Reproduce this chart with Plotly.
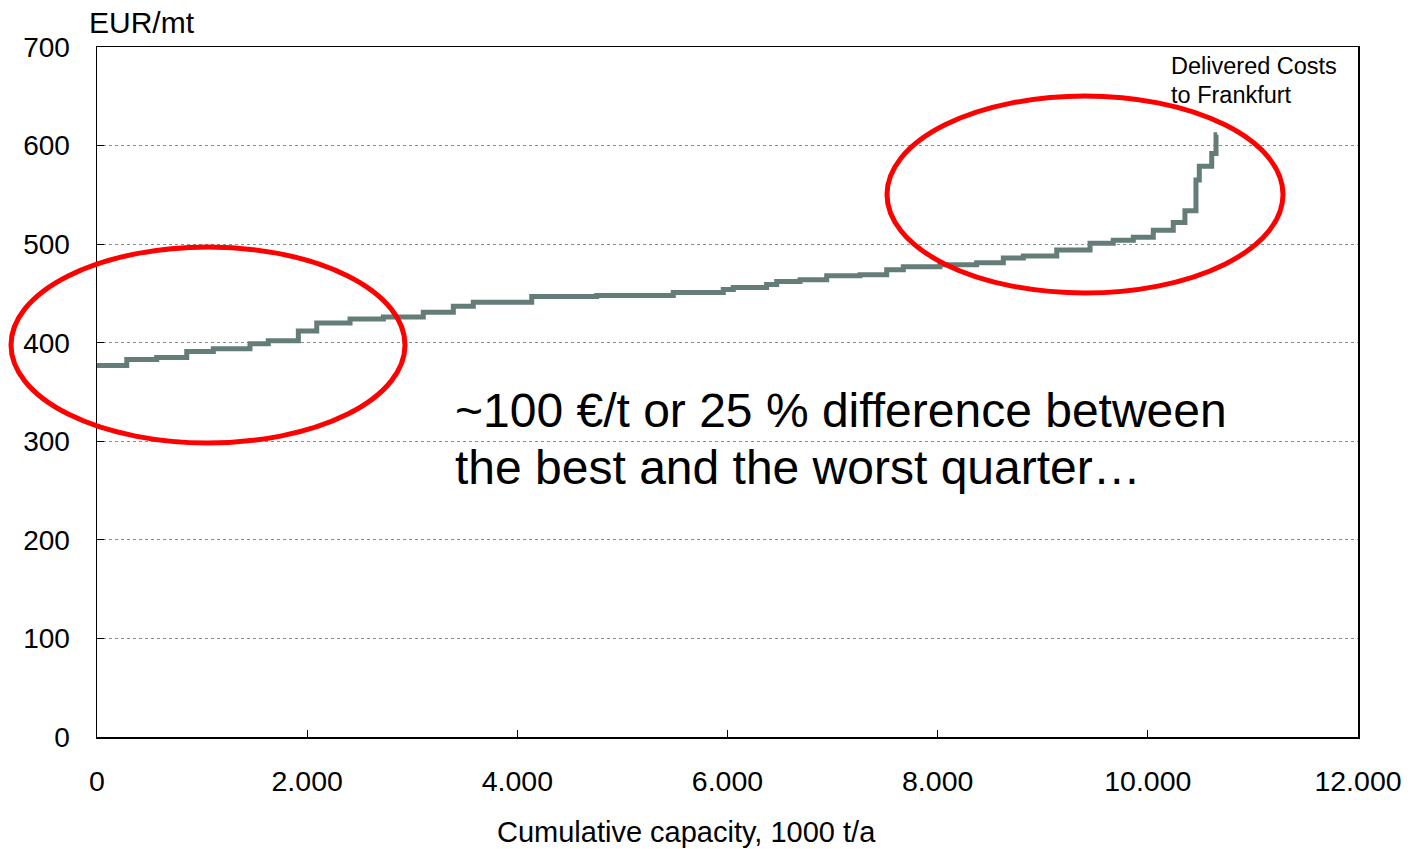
import plotly.graph_objects as go

# Cumulative capacity at end of each producer block (1000 t/a) and delivered cost (EUR/mt)
capacity_end = [283, 568, 854, 1107, 1456, 1630, 1916, 2091, 2408, 2725, 3105, 3391,
                3581, 4137, 4755, 5484, 5960, 6055, 6372, 6468, 6690, 6944, 7261, 7515,
                7673, 8022, 8371, 8625, 8815, 9133, 9450, 9671, 9862, 10052, 10242,
                10353, 10458, 10490, 10608, 10649, 10660]
cost = [377, 383, 385, 391, 394, 399, 402, 412, 420, 424, 426, 431,
        437, 441, 447, 448, 451, 454, 456, 459, 462, 464, 468, 469,
        474, 477, 479, 481, 486, 488, 494, 501, 504, 507, 514,
        522, 534, 565, 579, 592, 611]

x_ticks = [0, 2000, 4000, 6000, 8000, 10000, 12000]
y_ticks = [0, 100, 200, 300, 400, 500, 600, 700]

xs = [0] + capacity_end
ys = cost + [cost[-1]]

FONT = "Liberation Sans, Arial, sans-serif"

fig = go.Figure()
fig.add_trace(go.Scatter(
    x=xs, y=ys, mode="lines", line=dict(shape="hv", color="#647D78", width=5),
    hoverinfo="skip", showlegend=False,
))

L, R, T, B = 97, 54, 47, 112
W, H = 1412, 849
pw, ph = W - L - R, H - T - B

def px(xp):
    return (xp - L) / pw

def py(yp):
    return (H - B - yp) / ph

fig.update_layout(
    width=W, height=H,
    margin=dict(l=L, r=R, t=T, b=B, autoexpand=False),
    paper_bgcolor="white", plot_bgcolor="white",
    separators=",.",
    font=dict(family=FONT, color="black"),
    xaxis=dict(
        range=[0, 12000], tickvals=x_ticks, tickformat=",d",
        showgrid=False, zeroline=False, automargin=False,
        showline=True, linecolor="black", linewidth=1.5, mirror=True,
        ticks="inside", ticklen=7, tickcolor="black",
        tickfont=dict(size=28.5, family=FONT, color="black"),
        ticklabelstandoff=18,
    ),
    yaxis=dict(
        range=[0, 700], tickvals=y_ticks, automargin=False,
        showgrid=True, gridcolor="#8a8a8a", griddash="dot", gridwidth=1,
        zeroline=False,
        showline=True, linecolor="black", linewidth=1.5, mirror=True,
        ticks="inside", ticklen=7, tickcolor="black",
        tickfont=dict(size=28, family=FONT, color="black"),
        ticklabelstandoff=20,
    ),
    shapes=[
        dict(type="circle", xref="paper", yref="paper",
             x0=px(11), x1=px(405), y0=py(443), y1=py(247),
             line=dict(color="#FF0000", width=5), layer="above"),
        dict(type="circle", xref="paper", yref="paper",
             x0=px(887), x1=px(1283), y0=py(293), y1=py(96),
             line=dict(color="#FF0000", width=5), layer="above"),
    ],
    annotations=[
        dict(text="EUR/mt", xref="paper", yref="paper", x=px(87), y=py(22),
             xanchor="left", yanchor="middle", showarrow=False,
             font=dict(size=30, family=FONT, color="black")),
        dict(text="Cumulative capacity, 1000 t/a", xref="paper", yref="paper",
             x=px(686), y=py(832), xanchor="center", yanchor="middle", showarrow=False,
             font=dict(size=29, family=FONT, color="black")),
        dict(text="Delivered Costs", xref="paper", yref="paper",
             x=px(1169), y=py(66), xanchor="left", yanchor="middle",
             showarrow=False, font=dict(size=23.5, family=FONT, color="black")),
        dict(text="to Frankfurt", xref="paper", yref="paper",
             x=px(1169), y=py(95), xanchor="left", yanchor="middle",
             showarrow=False, font=dict(size=23.5, family=FONT, color="black")),
        dict(text="~100 €/t or 25 % difference between", xref="paper", yref="paper",
             x=px(453), y=py(410), xanchor="left", yanchor="middle", showarrow=False,
             font=dict(size=48, family=FONT, color="black")),
        dict(text="the best and the worst quarter…", xref="paper", yref="paper",
             x=px(453), y=py(467), xanchor="left", yanchor="middle", showarrow=False,
             font=dict(size=48, family=FONT, color="black")),
    ],
)

fig.write_html("out.html", config={"displayModeBar": False, "staticPlot": True},
               post_script="document.body.style.margin='0';document.body.style.overflow='hidden';")
